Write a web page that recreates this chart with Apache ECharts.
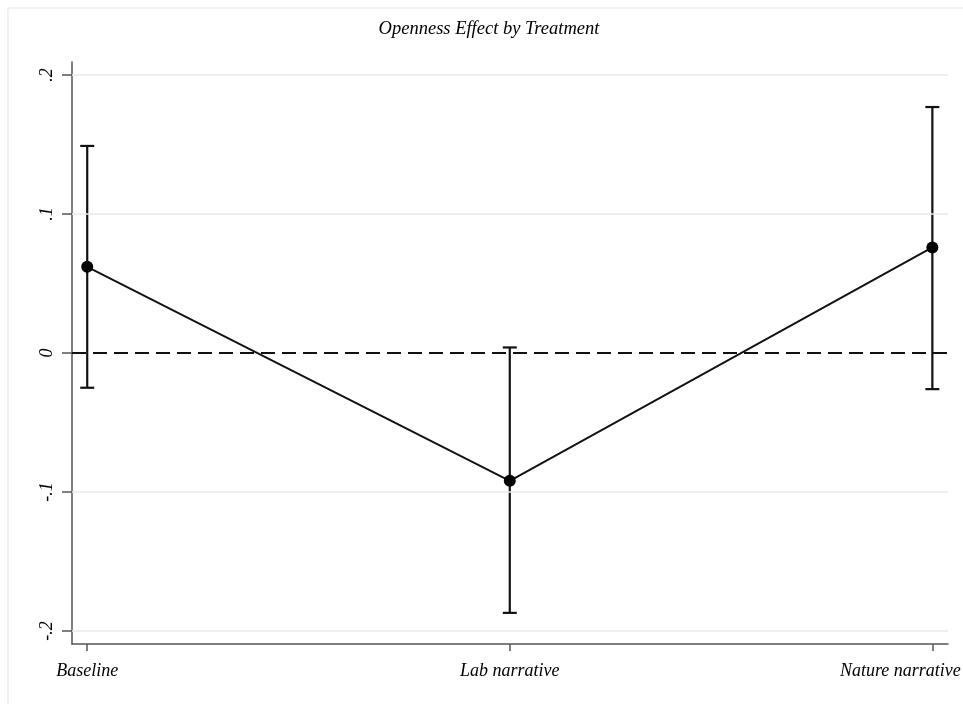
<!DOCTYPE html>
<html>
<head>
<meta charset="utf-8">
<script src="https://cdn.jsdelivr.net/npm/echarts@6/dist/echarts.min.js"></script>
<style>
  html, body { margin: 0; padding: 0; background: #fff; }
  #chart { width: 963px; height: 704px; }
</style>
</head>
<body>
<div id="chart"></div>
<script>
// Treatment groups and estimated openness effects with 95% CIs
const categories = ['Baseline', 'Lab narrative', 'Nature narrative'];
const estimates = [0.062, -0.092, 0.076];
const ciLower = [-0.025, -0.187, -0.026];
const ciUpper = [0.149, 0.004, 0.177];
const yTicks = [-0.2, -0.1, 0, 0.1, 0.2];
const yTickLabels = ['-.2', '-.1', '0', '.1', '.2'];
const xTicks = [1, 2, 3];

const serif = '"Liberation Serif", "DejaVu Serif", serif';

const chart = echarts.init(document.getElementById('chart'), null, { renderer: 'canvas' });

const meanData = estimates.map((v, i) => [xTicks[i], v]);
const ciData = estimates.map((v, i) => [xTicks[i], ciLower[i], ciUpper[i]]);

const option = {
  backgroundColor: '#ffffff',
  animation: false,
  grid: { left: 72, right: 15, top: 62, bottom: 60, containLabel: false, outerBoundsMode: 'none' },
  graphic: [
    { type: 'line', shape: { x1: 8, y1: 8, x2: 963, y2: 8 }, style: { stroke: '#eeeeee', lineWidth: 1.5 }, z: -1 },
    { type: 'line', shape: { x1: 8, y1: 8, x2: 8, y2: 704 }, style: { stroke: '#eeeeee', lineWidth: 1.5 }, z: -1 },
    {
      type: 'text',
      style: {
        text: 'Openness Effect by Treatment',
        x: 489, y: 29,
        font: 'italic 18.5px ' + serif,
        fill: '#000', textAlign: 'center', textVerticalAlign: 'middle'
      }
    }
  ],
  xAxis: {
    type: 'value',
    min: 0.964,
    max: 3.037,
    splitLine: { show: false },
    axisLine: { show: true, onZero: false, lineStyle: { color: '#555', width: 1.5 } },
    axisTick: { show: true, customValues: xTicks, length: 7, lineStyle: { color: '#555', width: 1.5 } },
    axisLabel: {
      customValues: xTicks,
      formatter: v => {
        const i = Math.round(v) - 1;
        // last label is nudged left so it stays inside the canvas
        return i === categories.length - 1 ? '{edge|' + categories[i] + '}' : (categories[i] || '');
      },
      rich: { edge: { padding: [0, 64, 0, 0], fontFamily: serif, fontStyle: 'italic', fontSize: 18, color: '#000' } },
      fontFamily: serif, fontStyle: 'italic', fontSize: 18, color: '#000', margin: 18,
      showMinLabel: true, showMaxLabel: true, hideOverlap: false
    }
  },
  yAxis: {
    type: 'value',
    min: -0.2094,
    max: 0.2094,
    splitLine: { show: false },
    axisLine: { show: true, onZero: false, lineStyle: { color: '#555', width: 1.5 } },
    axisTick: { show: true, customValues: yTicks, length: 10, lineStyle: { color: '#555', width: 1.5 } },
    axisLabel: {
      customValues: yTicks,
      formatter: v => yTickLabels[yTicks.findIndex(t => Math.abs(t - v) < 1e-9)] || '',
      rotate: 90,
      fontFamily: serif, fontStyle: 'italic', fontSize: 18, color: '#000', margin: 16
    }
  },
  series: [
    {
      // horizontal reference lines
      type: 'line',
      data: [],
      silent: true,
      z: 1,
      markLine: {
        silent: true,
        symbol: ['none', 'none'],
        label: { show: false },
        animation: false,
        data: yTicks.filter(t => t !== 0).map(t => ({
          yAxis: t, lineStyle: { color: '#e8e8e8', width: 1.5, type: 'solid' }
        })).concat([{
          yAxis: 0, lineStyle: { color: '#111', width: 2, type: [14, 7] }
        }])
      }
    },
    {
      type: 'custom',
      z: 3,
      data: ciData,
      renderItem: function (params, api) {
        const x = api.value(0);
        const lo = api.coord([x, api.value(1)]);
        const hi = api.coord([x, api.value(2)]);
        const cap = 7;
        const style = { stroke: '#111', lineWidth: 2.2 };
        return {
          type: 'group',
          children: [
            { type: 'line', shape: { x1: lo[0], y1: lo[1], x2: hi[0], y2: hi[1] }, style },
            { type: 'line', shape: { x1: lo[0] - cap, y1: lo[1], x2: lo[0] + cap, y2: lo[1] }, style },
            { type: 'line', shape: { x1: hi[0] - cap, y1: hi[1], x2: hi[0] + cap, y2: hi[1] }, style }
          ]
        };
      }
    },
    {
      type: 'line',
      z: 4,
      data: meanData,
      symbol: 'circle',
      symbolSize: 12,
      itemStyle: { color: '#000' },
      lineStyle: { color: '#111', width: 1.9 }
    }
  ]
};

chart.setOption(option);
</script>
</body>
</html>
